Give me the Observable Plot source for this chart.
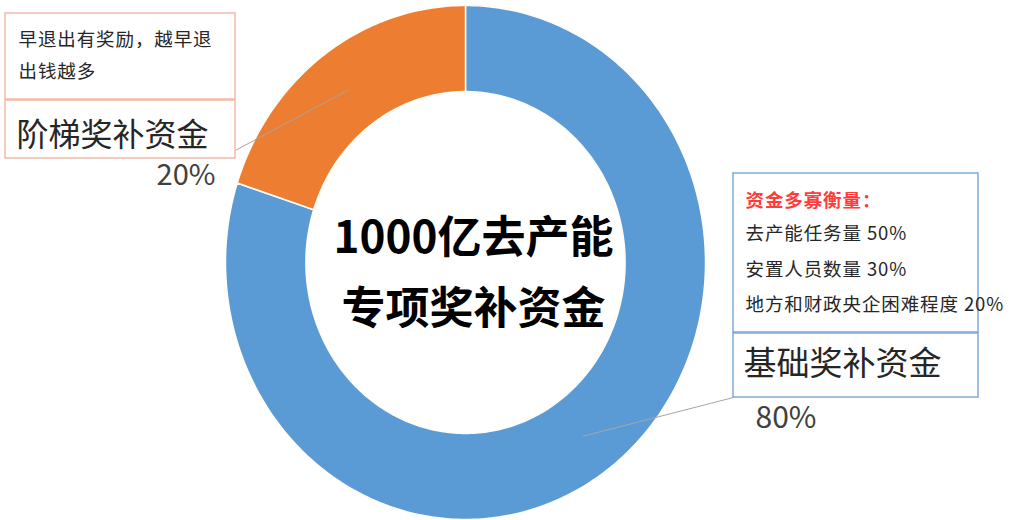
<!DOCTYPE html>
<html>
<head>
<meta charset="utf-8">
<script src="https://cdn.jsdelivr.net/npm/d3@7"></script>
<script src="https://cdn.jsdelivr.net/npm/@observablehq/plot@0.6"></script>
<style>
  html, body { margin: 0; padding: 0; background: #fff; }
  #chart svg { display: block; }
  #chart .small text, #chart text.small { letter-spacing: 0.9px; }
</style>
</head>
<body>
<div id="chart"></div>
<script>
// ---- data ----
const categories = ["基础奖补资金", "阶梯奖补资金"];
const shares = [80, 20];
const pctLabels = ["80%", "20%"];
const sliceColors = ["#5B9BD5", "#ED7D31"];
const centerLines = ["1000亿去产能", "专项奖补资金"];
const noteOrange = ["早退出有奖励，越早退", "出钱越多"];
const noteBlueTitle = "资金多寡衡量：";
const noteBlue = ["去产能任务量 50%", "安置人员数量 30%", "地方和财政央企困难程度 20%"];

// ---- geometry ----
const innerR = 0.665;
const pie = d3.pie().sort(null).value(d => d)(shares);
function slicePoints(a0, a1) {
  const pts = [];
  const n = Math.max(2, Math.ceil((a1 - a0) / (Math.PI / 180)));
  for (let i = 0; i <= n; i++) {
    const a = a0 + (a1 - a0) * i / n;
    pts.push([Math.sin(a), -Math.cos(a)]);
  }
  for (let i = n; i >= 0; i--) {
    const a = a0 + (a1 - a0) * i / n;
    pts.push([innerR * Math.sin(a), -innerR * Math.cos(a)]);
  }
  pts.push(pts[0]);
  return pts;
}
function centroid(p, r) {
  const a = (p.startAngle + p.endAngle) / 2;
  return [r * Math.sin(a), -r * Math.cos(a)];
}
// pixel -> scale units (for annotations)
const CX = 465, CY = 262, RX = 240, RY = 257;
const px = v => (v - CX) / RX;
const py = v => (v - CY) / RY;

const font = "'Noto Sans CJK SC', 'Noto Sans', sans-serif";
const sliceMarks = pie.map((p, i) =>
  Plot.line(slicePoints(p.startAngle, p.endAngle), {
    x: d => d[0], y: d => d[1], fill: sliceColors[i], stroke: "#FFFDF5", strokeWidth: 1.5, curve: "linear"
  })
);

const cBlue = centroid(pie[0], 0.835);
const cOrange = centroid(pie[1], 0.83);
const leaderBlue = [cBlue, [px(733), py(397)]];
const leaderOrange = [cOrange, [px(231), py(152)], [px(223), py(152)]];

const chart = Plot.plot({
  width: 1012,
  height: 520,
  margin: 0,
  x: { domain: [-1, 1], range: [CX - RX, CX + RX], axis: null },
  y: { domain: [-1, 1], range: [CY - RY, CY + RY], axis: null },
  style: { background: "#fff" },
  marks: [
    ...sliceMarks,
    // leader lines
    Plot.line(leaderBlue, { x: d => d[0], y: d => d[1], stroke: "#A6A6A6", strokeWidth: 1 }),
    Plot.line(leaderOrange, { x: d => d[0], y: d => d[1], stroke: "#A6A6A6", strokeWidth: 1 }),
    // left boxes
    Plot.rect([0], { x1: px(5), x2: px(235), y1: py(13), y2: py(99), fill: "#fff", stroke: "#F2B8A6", strokeWidth: 1.5 }),
    Plot.rect([0], { x1: px(5), x2: px(235), y1: py(100), y2: py(158), fill: "#fff", stroke: "#F2B8A6", strokeWidth: 1.5 }),
    Plot.text(noteOrange, { x: px(18), y: (d, i) => py(40 + i * 32), text: d => d, textAnchor: "start", fontSize: 18.5, fill: "#262626", fontFamily: font, className: "small" }),
    Plot.text([categories[1]], { x: px(16), y: py(135), text: d => d, textAnchor: "start", fontSize: 32, fill: "#262626", fontFamily: font }),
    Plot.text([pctLabels[1]], { x: px(215), y: py(175), text: d => d, textAnchor: "end", fontSize: 29, fill: "#404040", fontFamily: font }),
    // right boxes
    Plot.rect([0], { x1: px(733), x2: px(978), y1: py(173), y2: py(332), fill: "#fff", stroke: "#7FA9D9", strokeWidth: 1.5 }),
    Plot.rect([0], { x1: px(733), x2: px(978), y1: py(333), y2: py(397), fill: "#fff", stroke: "#7FA9D9", strokeWidth: 1.5 }),
    Plot.text([noteBlueTitle], { x: px(745), y: py(201), text: d => d, textAnchor: "start", fontSize: 18.5, fontWeight: 700, fill: "#FF3B3B", fontFamily: font, className: "small" }),
    Plot.text(noteBlue, { x: px(745), y: (d, i) => py(234 + i * 35.5), text: d => d, textAnchor: "start", fontSize: 18.5, fill: "#262626", fontFamily: font, className: "small" }),
    Plot.text([categories[0]], { x: px(743), y: py(364), text: d => d, textAnchor: "start", fontSize: 33, fill: "#262626", fontFamily: font }),
    Plot.text([pctLabels[0]], { x: px(755), y: py(418), text: d => d, textAnchor: "start", fontSize: 30, fill: "#404040", fontFamily: font }),
    // center title
    Plot.text(centerLines, { x: px(473), y: (d, i) => py(238 + i * 71), text: d => d, textAnchor: "middle", fontSize: 44, fontWeight: 700, fill: "#000", fontFamily: font })
  ]
});
document.getElementById("chart").appendChild(chart);
</script>
</body>
</html>
